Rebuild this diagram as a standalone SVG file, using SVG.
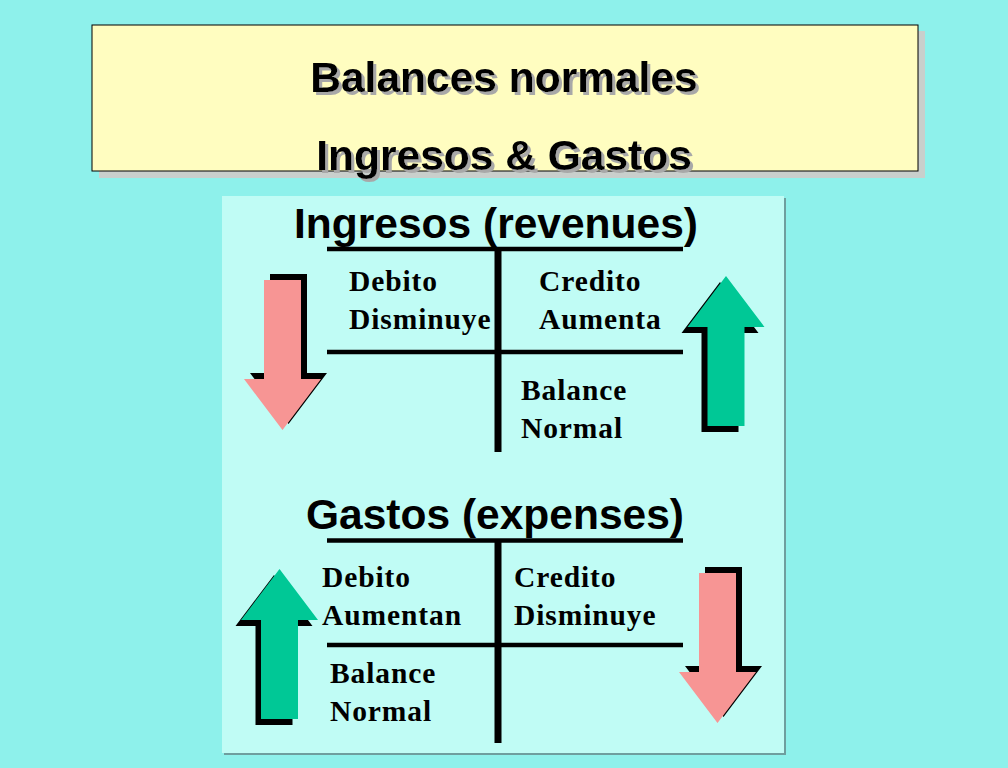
<svg xmlns="http://www.w3.org/2000/svg" width="1008" height="768" viewBox="0 0 1008 768">
<style>
.title{font-family:"Liberation Sans",Arial,sans-serif;font-weight:bold;font-size:42.5px;text-anchor:middle;fill:#000}
.head{font-family:"Liberation Sans",Arial,sans-serif;font-weight:bold;font-size:42.5px;text-anchor:middle;fill:#000}
.lbl{font-family:"Liberation Serif","Times New Roman",serif;font-weight:bold;font-size:29.5px;letter-spacing:0.9px;fill:#000}
.ln{stroke:#000;fill:none}
.red{fill:#F79594}
.green{fill:#00C896}
.sh{fill:#000}
</style>
<defs>
<path id="down" d="M -18.5 0 H 18.5 V 99 H 38.5 L 0 150 L -38.5 99 H -18.5 Z"/>
<filter id="tshadow" x="-5%" y="-20%" width="110%" height="140%">
<feFlood flood-color="#A8A8A8" result="c"/>
<feComposite in="c" in2="SourceAlpha" operator="in" result="s"/>
<feOffset in="s" dx="3" dy="3" result="o"/>
<feMerge><feMergeNode in="o"/><feMergeNode in="SourceGraphic"/></feMerge>
</filter>
</defs>
<rect x="0" y="0" width="1008" height="768" fill="#8EF1EB"/>
<g id="title">
<rect x="99" y="31" width="826" height="147" fill="#C9CFCC"/>
<rect x="92" y="25" width="826" height="146" fill="#FFFDC0" stroke="#000" stroke-width="1"/>
<g filter="url(#tshadow)">
<text class="title" x="504" y="92">Balances normales</text>
<text class="title" x="504" y="170">Ingresos &amp; Gastos</text>
</g>
</g>
<g id="panel">
<rect x="224" y="198" width="562" height="557" fill="#6E9E9E"/>
<rect x="222" y="196" width="562" height="557" fill="#C0FCF5"/>
</g>
<g id="connectors">
<line class="ln" x1="327" y1="249" x2="683" y2="249" stroke-width="4.5"/>
<line class="ln" x1="498" y1="249" x2="498" y2="452" stroke-width="7"/>
<line class="ln" x1="327" y1="352" x2="683" y2="352" stroke-width="4.5"/>
<line class="ln" x1="327" y1="540.5" x2="683" y2="540.5" stroke-width="4.5"/>
<line class="ln" x1="498" y1="540" x2="498" y2="743" stroke-width="7"/>
<line class="ln" x1="327" y1="645" x2="683" y2="645" stroke-width="4.5"/>
</g>
<g id="ingresos">
<text class="head" x="496" y="238">Ingresos (revenues)</text>
<text class="lbl" x="349" y="291">Debito</text>
<text class="lbl" x="349" y="329">Disminuye</text>
<text class="lbl" x="539" y="291">Credito</text>
<text class="lbl" x="539" y="329">Aumenta</text>
<text class="lbl" x="521" y="400">Balance</text>
<text class="lbl" x="521" y="438">Normal</text>
</g>
<g id="gastos">
<text class="head" x="495" y="529">Gastos (expenses)</text>
<text class="lbl" x="322" y="587">Debito</text>
<text class="lbl" x="322" y="625">Aumentan</text>
<text class="lbl" x="514" y="587">Credito</text>
<text class="lbl" x="514" y="625">Disminuye</text>
<text class="lbl" x="330" y="683">Balance</text>
<text class="lbl" x="330" y="721">Normal</text>
</g>
<g id="arrow-ingresos-debito">
<use href="#down" class="sh" transform="translate(288.5 274)"/>
<use href="#down" class="red" transform="translate(282.5 280)"/>
</g>
<g id="arrow-ingresos-credito">
<use href="#down" class="sh" transform="translate(720 432) rotate(180)"/>
<use href="#down" class="green" transform="translate(726 426) rotate(180)"/>
</g>
<g id="arrow-gastos-debito">
<use href="#down" class="sh" transform="translate(274 725) rotate(180)"/>
<use href="#down" class="green" transform="translate(279.5 719) rotate(180)"/>
</g>
<g id="arrow-gastos-credito">
<use href="#down" class="sh" transform="translate(723.5 567)"/>
<use href="#down" class="red" transform="translate(717.5 573)"/>
</g>
</svg>
